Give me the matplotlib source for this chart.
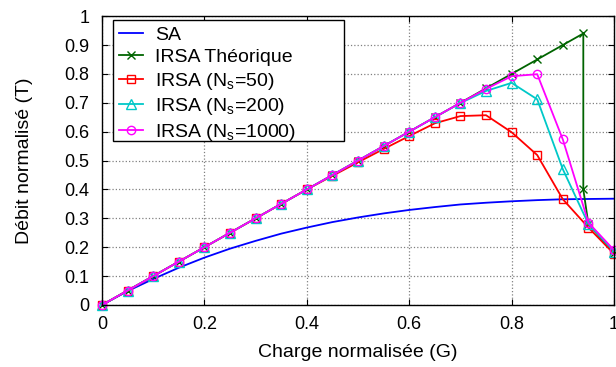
import matplotlib.pyplot as plt
from matplotlib.patches import Rectangle

plt.rcParams['font.family'] = ['Liberation Sans', 'DejaVu Sans']
plt.rcParams['mathtext.fontset'] = 'custom'
plt.rcParams['mathtext.rm'] = 'Liberation Sans'

# Offered load G
G = [0, 0.05, 0.1, 0.15, 0.2, 0.25, 0.3, 0.35, 0.4, 0.45, 0.5,
     0.55, 0.6, 0.65, 0.7, 0.75, 0.8, 0.85, 0.9, 0.95, 1.0]

# Slotted ALOHA throughput
sa = [0, 0.048, 0.090, 0.129, 0.164, 0.195, 0.222, 0.247, 0.268, 0.287, 0.303,
      0.317, 0.329, 0.339, 0.348, 0.354, 0.359, 0.363, 0.366, 0.367, 0.368]

# IRSA theoretical (asymptotic) curve
g_theo = [0, 0.05, 0.1, 0.15, 0.2, 0.25, 0.3, 0.35, 0.4, 0.45, 0.5,
          0.55, 0.6, 0.65, 0.7, 0.75, 0.8, 0.85, 0.9, 0.94, 0.94, 0.95, 1.0]
t_theo = [0, 0.05, 0.1, 0.15, 0.2, 0.25, 0.3, 0.35, 0.4, 0.45, 0.5,
          0.55, 0.6, 0.65, 0.7, 0.75, 0.8, 0.85, 0.9, 0.94, 0.40, 0.28, 0.18]

# IRSA simulations
ns50 = [0, 0.05, 0.1, 0.15, 0.2, 0.25, 0.3, 0.35, 0.4, 0.447, 0.494,
        0.54, 0.585, 0.629, 0.654, 0.657, 0.598, 0.519, 0.366, 0.268, 0.177]
ns200 = [0, 0.05, 0.1, 0.15, 0.2, 0.25, 0.3, 0.35, 0.4, 0.45, 0.5,
         0.55, 0.6, 0.65, 0.699, 0.741, 0.769, 0.712, 0.470, 0.28, 0.185]
ns1000 = [0, 0.05, 0.1, 0.15, 0.2, 0.25, 0.3, 0.35, 0.4, 0.45, 0.5,
          0.55, 0.6, 0.65, 0.70, 0.748, 0.792, 0.799, 0.573, 0.285, 0.19]

fig, ax = plt.subplots(figsize=(6.16, 3.67), dpi=100)
fig.subplots_adjust(left=0.1656, right=0.9968, top=0.956, bottom=0.169)

ax.plot(G, sa, color='#0000ff', lw=1.3, label='SA')
ax.plot(g_theo, t_theo, color='#006400', lw=1.3, marker='x', ms=5.5,
        label='IRSA Théorique', clip_on=False)
ax.plot(G, ns50, color='#ff0000', lw=1.3, marker='s', ms=6, mfc='none',
        label='IRSA (N$_\\mathregular{s}$=50)', clip_on=False)
ax.plot(G, ns200, color='#00c8c8', lw=1.3, marker='^', ms=6.5, mfc='none',
        label='IRSA (N$_\\mathregular{s}$=200)', clip_on=False)
ax.plot(G, ns1000, color='#ff00ff', lw=1.3, marker='o', ms=6, mfc='none',
        label='IRSA (N$_\\mathregular{s}$=1000)', clip_on=False)

ax.set_xlim(0, 1)
ax.set_ylim(0, 1)
ax.set_xticks([0, 0.2, 0.4, 0.6, 0.8, 1])
ax.set_xticklabels(['0', '0.2', '0.4', '0.6', '0.8', '1'])
ax.set_yticks([i / 10 for i in range(11)])
ax.set_yticklabels(['0', '0.1', '0.2', '0.3', '0.4', '0.5', '0.6', '0.7', '0.8', '0.9', '1'])
ax.tick_params(direction='in', top=True, right=True, labelsize=13, length=4)
ax.tick_params(axis='y', pad=9)
ax.tick_params(axis='x', pad=8)
ax.grid(True, color='#808080', linestyle=':', lw=0.9)
for s in ax.spines.values():
    s.set_linewidth(1.0)

ax.set_xlabel('Charge normalisée (G)', fontsize=14)
ax.set_ylabel('Débit normalisé (T)', fontsize=14)
ax.xaxis.set_label_coords(0.5, -0.135)
ax.yaxis.set_label_coords(-0.135, 0.5)

# legend frame drawn separately (wide box like the original)
ax.add_patch(Rectangle((0.0215, 0.5675), 0.451, 0.4185, transform=ax.transAxes,
                       facecolor='white', edgecolor='black', lw=1.0, zorder=4))
leg = ax.legend(loc='upper left', bbox_to_anchor=(0.0215, 0.986), fontsize=14,
                frameon=False, handlelength=1.25, handletextpad=0.6,
                borderaxespad=0, labelspacing=0.24, borderpad=0.3)
leg.set_zorder(5)

plt.savefig('out.png', dpi=100)
